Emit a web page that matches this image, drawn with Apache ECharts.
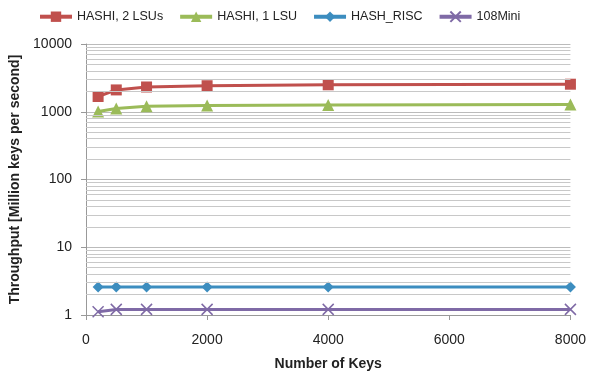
<!DOCTYPE html>
<html><head><meta charset="utf-8">
<script src="https://cdn.jsdelivr.net/npm/echarts@6/dist/echarts.min.js"></script>
<style>html,body{margin:0;padding:0;background:#fff}#c{width:589px;height:377px}</style>
</head><body><div id="c"></div>
<script>
const keys = [200, 500, 1000, 2000, 4000, 8000];
const hashi2 = [1680, 2100, 2320, 2420, 2500, 2550];
const hashi1 = [1010, 1120, 1210, 1240, 1260, 1280];
const hashRisc = [2.6, 2.6, 2.6, 2.6, 2.6, 2.6];
const mini108 = [1.12, 1.21, 1.21, 1.21, 1.21, 1.21];
const minorGrid = [2,3,4,5,6,7,8,9,20,30,40,50,60,70,80,90,200,300,400,500,600,700,800,900,2000,3000,4000,5000,6000,7000,8000,9000];

const font = 'Liberation Sans, Arial, sans-serif';
const pts = a => keys.map((k,i)=>[k,a[i]]);
const chart = echarts.init(document.getElementById('c'));
chart.setOption({
  animation:false,
  textStyle:{fontFamily:font},
  legend:{top:4,left:33,itemWidth:32,itemHeight:13,itemGap:15,
    lineStyle:{width:4},
    textStyle:{fontSize:12.5,color:'#222',fontFamily:font}},
  grid:{left:86,right:17,top:44,bottom:62},
  xAxis:{type:'value',min:0,max:8000,interval:2000,
    name:'Number of Keys',nameLocation:'middle',nameGap:42,
    nameTextStyle:{fontWeight:'bold',fontSize:14,color:'#222'},
    axisLine:{lineStyle:{color:'#999'}},axisTick:{show:true,length:5,lineStyle:{color:'#999'}},
    axisLabel:{fontSize:14,color:'#222',margin:18,formatter:v=>String(v)},splitLine:{show:false}},
  yAxis:{type:'log',min:1,max:10000,logBase:10,
    name:'Throughput [Million keys per second]',nameLocation:'middle',nameGap:63,
    nameTextStyle:{fontWeight:'bold',fontSize:14,color:'#222'},
    axisLine:{show:true,lineStyle:{color:'#999'}},axisTick:{show:true,length:5,lineStyle:{color:'#999'}},
    axisLabel:{fontSize:14,color:'#222',margin:14,formatter:v=>String(Math.round(v))},
    splitLine:{lineStyle:{color:'#bbb',width:1}}},
  series:[
    {name:'HASHI, 2 LSUs',type:'line',data:pts(hashi2),symbol:'rect',symbolSize:11,
      lineStyle:{width:3,color:'#C0504D'},itemStyle:{color:'#C0504D'},
      markLine:{silent:true,symbol:'none',label:{show:false},
        lineStyle:{color:'#c8c8c8',type:'solid',width:1},
        data:minorGrid.map(v=>({yAxis:v}))}},
    {name:'HASHI, 1 LSU',type:'line',data:pts(hashi1),symbol:'triangle',symbolSize:12,
      lineStyle:{width:3,color:'#9BBB59'},itemStyle:{color:'#9BBB59'}},
    {name:'HASH_RISC',type:'line',data:pts(hashRisc),symbol:'diamond',symbolSize:11,
      lineStyle:{width:3,color:'#3C8DBF'},itemStyle:{color:'#3C8DBF'}},
    {name:'108Mini',type:'line',data:pts(mini108),symbol:'path://M0,0L10,10M10,0L0,10',symbolSize:11,
      lineStyle:{width:3,color:'#7F6AA6'},itemStyle:{color:'none',borderColor:'#7F6AA6',borderWidth:1.5}}
  ]
});
</script></body></html>
